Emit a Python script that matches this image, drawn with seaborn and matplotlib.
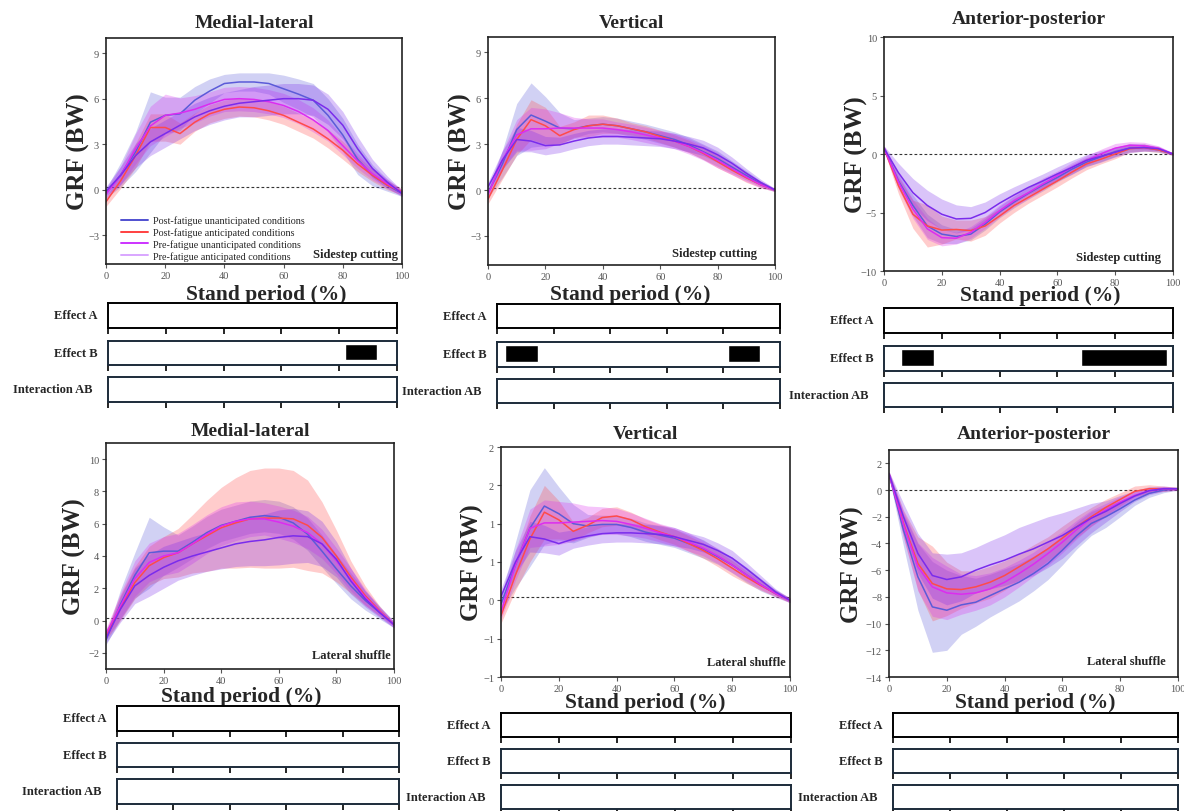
import matplotlib
matplotlib.use("Agg")
import matplotlib.pyplot as plt
from matplotlib.lines import Line2D
import pandas as pd
import seaborn as sns

# GRF (BW) over stance (%)
stance = [0, 5, 10, 15, 20, 25, 30, 35, 40, 45, 50, 55, 60, 65, 70, 75, 80, 85, 90, 95, 100]
conditions = ["Post-fatigue unanticipated conditions", "Post-fatigue anticipated conditions",
              "Pre-fatigue unanticipated conditions", "Pre-fatigue anticipated conditions"]

# sidestep cutting - medial-lateral
ml_cut_post_un = [-0.25, 1.0, 2.5, 4.45, 4.9, 5.0, 5.9, 6.5, 7.0, 7.1, 7.1, 7.0, 6.65, 6.3, 5.9, 4.9, 3.6, 2.0, 0.95, 0.3, -0.25]
ml_cut_post_an = [-0.8, 0.6, 2.25, 4.1, 4.1, 3.7, 4.45, 5.0, 5.3, 5.45, 5.4, 5.2, 4.9, 4.45, 4.0, 3.35, 2.6, 1.7, 0.95, 0.3, -0.15]
ml_cut_pre_un = [-0.3, 0.95, 2.7, 4.2, 4.9, 5.05, 5.3, 5.65, 5.95, 6.0, 5.95, 5.8, 5.55, 5.15, 4.6, 3.9, 2.9, 1.9, 1.05, 0.4, -0.2]
ml_cut_pre_an = [-0.1, 0.95, 2.25, 3.15, 3.7, 4.25, 4.8, 5.2, 5.5, 5.7, 5.8, 5.9, 6.0, 6.0, 5.9, 5.3, 4.25, 2.7, 1.4, 0.5, -0.25]
ml_cut_sd_post_un = [0.3, 0.8, 1.3, 2.0, 1.2, 1.1, 0.9, 0.8, 0.6, 0.6, 0.6, 0.7, 0.9, 1.0, 1.1, 1.1, 1.1, 1.0, 0.7, 0.4, 0.2]
ml_cut_sd_post_an = [0.3, 0.5, 0.8, 0.9, 0.9, 0.7, 0.6, 0.6, 0.6, 0.6, 0.6, 0.6, 0.6, 0.6, 0.6, 0.6, 0.6, 0.5, 0.4, 0.3, 0.2]
ml_cut_sd_pre_un = [0.3, 0.6, 1.0, 1.3, 1.4, 1.0, 0.9, 0.8, 0.8, 0.8, 0.8, 0.8, 0.8, 0.8, 0.8, 0.7, 0.6, 0.5, 0.4, 0.3, 0.2]
ml_cut_sd_pre_an = [0.3, 0.6, 0.8, 0.9, 0.9, 0.9, 0.9, 0.9, 0.9, 0.9, 1.0, 1.0, 1.0, 1.0, 1.0, 1.0, 0.9, 0.8, 0.6, 0.4, 0.2]

# sidestep cutting - vertical
vt_cut_post_un = [-0.2, 1.7, 3.95, 4.9, 4.5, 4.05, 4.0, 4.2, 4.3, 4.2, 4.0, 3.8, 3.55, 3.3, 2.95, 2.5, 2.05, 1.5, 0.95, 0.4, 0.0]
vt_cut_post_an = [-0.6, 1.3, 3.3, 4.6, 4.2, 3.55, 3.95, 4.2, 4.3, 4.2, 4.0, 3.8, 3.5, 3.2, 2.85, 2.4, 1.85, 1.3, 0.8, 0.35, 0.0]
vt_cut_pre_un = [-0.3, 1.95, 3.6, 4.0, 4.0, 4.05, 4.05, 4.05, 4.05, 3.95, 3.8, 3.6, 3.4, 3.2, 2.85, 2.45, 1.95, 1.4, 0.85, 0.35, 0.0]
vt_cut_pre_an = [0.2, 1.95, 3.3, 3.2, 2.9, 2.95, 3.2, 3.4, 3.5, 3.5, 3.45, 3.4, 3.35, 3.2, 3.0, 2.75, 2.3, 1.75, 1.1, 0.5, 0.0]
vt_cut_sd_post_un = [0.3, 0.9, 1.7, 2.1, 1.6, 1.0, 0.6, 0.5, 0.5, 0.5, 0.5, 0.5, 0.5, 0.5, 0.5, 0.5, 0.5, 0.4, 0.3, 0.2, 0.1]
vt_cut_sd_post_an = [0.3, 0.6, 1.0, 1.3, 1.2, 0.6, 0.5, 0.7, 0.6, 0.5, 0.4, 0.4, 0.4, 0.4, 0.4, 0.4, 0.4, 0.3, 0.3, 0.2, 0.1]
vt_cut_sd_pre_un = [0.3, 0.6, 1.0, 1.4, 1.3, 1.0, 0.7, 0.6, 0.6, 0.5, 0.5, 0.5, 0.5, 0.5, 0.5, 0.5, 0.5, 0.4, 0.3, 0.2, 0.1]
vt_cut_sd_pre_an = [0.3, 0.6, 0.8, 0.7, 0.6, 0.5, 0.5, 0.5, 0.5, 0.5, 0.5, 0.5, 0.5, 0.5, 0.5, 0.5, 0.5, 0.4, 0.3, 0.2, 0.1]

# sidestep cutting - anterior-posterior
ap_cut_post_un = [0.5, -2.3, -4.4, -6.15, -6.85, -7.05, -6.85, -6.0, -4.95, -4.1, -3.35, -2.65, -2.0, -1.3, -0.7, -0.25, 0.2, 0.5, 0.55, 0.35, 0.0]
ap_cut_post_an = [0.5, -2.7, -5.15, -6.15, -6.5, -6.45, -6.55, -6.15, -5.3, -4.4, -3.7, -3.0, -2.3, -1.55, -0.85, -0.45, 0.0, 0.45, 0.55, 0.35, 0.0]
ap_cut_pre_un = [0.5, -2.4, -4.7, -6.4, -7.15, -7.2, -6.7, -5.85, -4.85, -4.0, -3.3, -2.55, -1.85, -1.15, -0.55, 0.0, 0.5, 0.75, 0.7, 0.5, 0.0]
ap_cut_pre_an = [0.5, -1.6, -3.3, -4.4, -5.15, -5.55, -5.5, -5.0, -4.2, -3.5, -2.85, -2.3, -1.7, -1.15, -0.55, -0.2, 0.15, 0.5, 0.55, 0.45, 0.0]
ap_cut_sd_post_un = [0.2, 0.6, 0.9, 1.0, 0.8, 0.6, 0.5, 0.5, 0.5, 0.5, 0.5, 0.5, 0.4, 0.4, 0.4, 0.4, 0.4, 0.3, 0.3, 0.2, 0.1]
ap_cut_sd_post_an = [0.2, 0.7, 1.2, 1.8, 1.2, 0.8, 0.9, 0.8, 0.6, 0.6, 0.5, 0.5, 0.5, 0.5, 0.5, 0.4, 0.4, 0.3, 0.3, 0.2, 0.1]
ap_cut_sd_pre_un = [0.2, 0.6, 0.8, 0.9, 0.7, 0.5, 0.5, 0.5, 0.5, 0.5, 0.5, 0.5, 0.4, 0.4, 0.4, 0.4, 0.4, 0.3, 0.3, 0.2, 0.1]
ap_cut_sd_pre_an = [0.2, 0.8, 1.2, 1.3, 1.3, 1.2, 1.0, 0.9, 0.8, 0.7, 0.6, 0.6, 0.6, 0.6, 0.5, 0.5, 0.4, 0.4, 0.3, 0.2, 0.1]

# lateral shuffle - medial-lateral
ml_shuf_post_un = [-1.2, 1.0, 2.8, 4.2, 4.3, 4.3, 4.85, 5.45, 5.9, 6.15, 6.4, 6.5, 6.4, 6.05, 5.35, 4.3, 3.2, 2.15, 1.25, 0.5, -0.25]
ml_shuf_post_an = [-0.9, 0.8, 2.35, 3.4, 3.9, 4.2, 4.75, 5.25, 5.75, 6.05, 6.3, 6.35, 6.35, 6.3, 5.9, 5.15, 4.0, 2.7, 1.55, 0.6, -0.25]
ml_shuf_pre_un = [-0.8, 0.9, 2.6, 3.6, 4.0, 4.2, 4.75, 5.35, 5.85, 6.15, 6.3, 6.3, 6.1, 5.85, 5.45, 4.75, 3.7, 2.55, 1.45, 0.55, -0.25]
ml_shuf_pre_an = [-1.1, 0.7, 2.15, 2.8, 3.3, 3.7, 4.0, 4.25, 4.5, 4.75, 4.9, 5.0, 5.15, 5.25, 5.2, 4.75, 3.8, 2.45, 1.35, 0.5, -0.25]
ml_shuf_sd_post_un = [0.3, 0.9, 1.4, 2.2, 1.5, 1.0, 1.0, 1.0, 1.0, 1.0, 1.0, 1.0, 1.0, 1.0, 1.0, 1.0, 0.9, 0.8, 0.6, 0.4, 0.2]
ml_shuf_sd_post_an = [0.3, 0.8, 1.0, 1.2, 1.3, 1.5, 1.8, 2.2, 2.5, 2.8, 3.0, 3.1, 3.1, 3.0, 2.8, 2.2, 1.6, 1.0, 0.6, 0.3, 0.1]
ml_shuf_sd_pre_un = [0.3, 0.8, 1.1, 1.2, 1.2, 1.2, 1.2, 1.2, 1.2, 1.2, 1.1, 1.0, 1.0, 1.0, 1.0, 0.9, 0.8, 0.7, 0.5, 0.3, 0.2]
ml_shuf_sd_pre_an = [0.3, 0.8, 1.1, 1.3, 1.3, 1.2, 1.2, 1.2, 1.3, 1.4, 1.5, 1.6, 1.7, 1.7, 1.6, 1.4, 1.1, 0.8, 0.5, 0.3, 0.2]

# lateral shuffle - vertical
vt_shuf_post_un = [-0.05, 0.46, 0.94, 1.23, 1.13, 1.0, 0.97, 0.99, 0.99, 0.95, 0.89, 0.85, 0.81, 0.74, 0.67, 0.57, 0.46, 0.33, 0.2, 0.09, 0.0]
vt_shuf_post_an = [-0.2, 0.33, 0.8, 1.15, 1.05, 0.9, 0.98, 1.08, 1.1, 1.05, 0.96, 0.89, 0.83, 0.74, 0.65, 0.54, 0.42, 0.3, 0.19, 0.09, 0.0]
vt_shuf_pre_un = [-0.15, 0.46, 0.94, 1.01, 1.01, 1.02, 1.03, 1.04, 1.03, 0.99, 0.94, 0.88, 0.83, 0.76, 0.68, 0.58, 0.46, 0.33, 0.2, 0.09, 0.0]
vt_shuf_pre_an = [0.05, 0.5, 0.83, 0.8, 0.74, 0.8, 0.84, 0.87, 0.88, 0.88, 0.87, 0.86, 0.83, 0.78, 0.73, 0.65, 0.55, 0.41, 0.26, 0.11, 0.0]
vt_shuf_sd_post_un = [0.1, 0.3, 0.5, 0.5, 0.35, 0.25, 0.15, 0.12, 0.12, 0.12, 0.12, 0.12, 0.12, 0.12, 0.12, 0.1, 0.1, 0.1, 0.08, 0.05, 0.03]
vt_shuf_sd_post_an = [0.1, 0.2, 0.3, 0.35, 0.25, 0.12, 0.1, 0.12, 0.12, 0.1, 0.1, 0.1, 0.1, 0.1, 0.1, 0.1, 0.1, 0.08, 0.06, 0.04, 0.03]
vt_shuf_sd_pre_un = [0.1, 0.2, 0.25, 0.3, 0.28, 0.25, 0.2, 0.18, 0.17, 0.15, 0.13, 0.12, 0.12, 0.12, 0.1, 0.1, 0.1, 0.08, 0.06, 0.04, 0.03]
vt_shuf_sd_pre_an = [0.1, 0.15, 0.2, 0.18, 0.15, 0.12, 0.12, 0.12, 0.12, 0.12, 0.12, 0.12, 0.12, 0.1, 0.1, 0.1, 0.1, 0.08, 0.06, 0.04, 0.03]
vt_shuf_yticks = [-1, -0.5, 0, 0.5, 1, 1.5, 2]
vt_shuf_yticklabels = ["\u22121", "\u22121", "0", "1", "1", "2", "2"]

# lateral shuffle - anterior-posterior
ap_shuf_post_un = [1.2, -3.0, -6.5, -8.75, -9.0, -8.6, -8.4, -7.9, -7.4, -6.9, -6.25, -5.5, -4.5, -3.4, -2.5, -2.0, -1.4, -0.75, -0.25, 0.0, 0.1]
ap_shuf_post_an = [1.2, -2.5, -5.5, -7.0, -7.4, -7.45, -7.25, -6.9, -6.4, -5.75, -5.1, -4.4, -3.6, -2.75, -2.0, -1.3, -0.7, -0.1, 0.1, 0.1, 0.1]
ap_shuf_pre_un = [1.2, -2.6, -5.75, -7.25, -7.7, -7.8, -7.7, -7.4, -6.9, -6.25, -5.55, -4.75, -3.9, -2.95, -2.1, -1.5, -0.9, -0.4, -0.05, 0.1, 0.1]
ap_shuf_pre_an = [1.2, -2.0, -4.75, -6.4, -6.7, -6.5, -6.0, -5.6, -5.25, -4.8, -4.4, -3.9, -3.4, -2.75, -2.1, -1.6, -1.0, -0.45, -0.05, 0.1, 0.1]
ap_shuf_sd_post_un = [0.2, 1.2, 2.5, 3.4, 3.0, 2.2, 1.8, 1.6, 1.5, 1.4, 1.3, 1.2, 1.1, 1.0, 0.9, 0.8, 0.6, 0.4, 0.3, 0.2, 0.1]
ap_shuf_sd_post_an = [0.2, 1.0, 2.0, 2.8, 2.0, 1.4, 1.2, 1.2, 1.1, 1.0, 1.0, 0.9, 0.9, 0.8, 0.7, 0.6, 0.5, 0.4, 0.3, 0.2, 0.1]
ap_shuf_sd_pre_un = [0.2, 1.0, 1.8, 2.2, 2.0, 1.5, 1.3, 1.2, 1.1, 1.0, 0.9, 0.9, 0.8, 0.7, 0.6, 0.5, 0.4, 0.3, 0.2, 0.15, 0.1]
ap_shuf_sd_pre_an = [0.2, 1.0, 1.5, 1.7, 1.9, 1.8, 1.7, 1.8, 1.9, 2.0, 2.0, 1.9, 1.7, 1.4, 1.1, 0.8, 0.6, 0.4, 0.3, 0.2, 0.1]

# significant stretches (SPM) in the effect strips, % stance
effect_rows = ["Effect A", "Effect B", "Interaction AB"]
cut_ml_effects = [[], [(82, 93)], []]
cut_vt_effects = [[], [(3, 14.5), (81.5, 93)], []]
cut_ap_effects = [[], [(6, 17.3), (68, 98)], []]
shuf_ml_effects = [[], [], []]
shuf_vt_effects = [[], [], []]
shuf_ap_effects = [[], [], []]

line_colors = ["#5b5bd8", "#ff4a4a", "#dc2cf0", "#7a2cec"]
legend_colors = ["#5050d0", "#ff4040", "#cc33ff", "#d9a6ff"]

sns.set_theme(style="white")
plt.rcParams["font.family"] = ["Liberation Serif", "DejaVu Serif"]

W, H = 1184, 812
fig = plt.figure(figsize=(W / 100, H / 100), dpi=100)


def px_rect(x0, y0, x1, y1):
    return [x0 / W, 1 - y1 / H, (x1 - x0) / W, (y1 - y0) / H]


def long_frame(means, sds):
    # mean-sd, mean, mean+sd per point -> seaborn mean line + min/max band
    rows = []
    for cond, m, s in zip(conditions, means, sds):
        for x, mv, sv in zip(stance, m, s):
            for v in (mv - sv, mv, mv + sv):
                rows.append({"stance": x, "grf": v, "condition": cond})
    return pd.DataFrame(rows)


panels = [
    dict(means=[ml_cut_post_un, ml_cut_post_an, ml_cut_pre_un, ml_cut_pre_an],
         sds=[ml_cut_sd_post_un, ml_cut_sd_post_an, ml_cut_sd_pre_un, ml_cut_sd_pre_an],
         title="Medial-lateral", task="Sidestep cutting", box=(106, 39, 402, 265),
         ylim=(-4.9, 10), yticks=[-3, 0, 3, 6, 9], zero=0.2, pad=8,
         xlab=(0.54, -0.133), ylab=-0.092, task_px=(4, 10)),
    dict(means=[vt_cut_post_un, vt_cut_post_an, vt_cut_pre_un, vt_cut_pre_an],
         sds=[vt_cut_sd_post_un, vt_cut_sd_post_an, vt_cut_sd_pre_un, vt_cut_sd_pre_an],
         title="Vertical", task="Sidestep cutting", box=(488, 38, 775, 266),
         ylim=(-4.9, 10), yticks=[-3, 0, 3, 6, 9], zero=0.15, pad=7,
         xlab=(0.495, -0.127), ylab=-0.095, task_px=(18, 12)),
    dict(means=[ap_cut_post_un, ap_cut_post_an, ap_cut_pre_un, ap_cut_pre_an],
         sds=[ap_cut_sd_post_un, ap_cut_sd_post_an, ap_cut_sd_pre_un, ap_cut_sd_pre_an],
         title="Anterior-posterior", task="Sidestep cutting", box=(884, 38, 1173, 272),
         ylim=(-10, 10), yticks=[-10, -5, 0, 5, 10], zero=0.0, pad=10,
         xlab=(0.54, -0.103), ylab=-0.095, task_px=(12, 14)),
    dict(means=[ml_shuf_post_un, ml_shuf_post_an, ml_shuf_pre_un, ml_shuf_pre_an],
         sds=[ml_shuf_sd_post_un, ml_shuf_sd_post_an, ml_shuf_sd_pre_un, ml_shuf_sd_pre_an],
         title="Medial-lateral", task="Lateral shuffle", box=(106, 444, 394, 670),
         ylim=(-3, 11), yticks=[-2, 0, 2, 4, 6, 8, 10], zero=0.16, pad=5.5,
         xlab=(0.47, -0.119), ylab=-0.11, task_px=(3, 14)),
    dict(means=[vt_shuf_post_un, vt_shuf_post_an, vt_shuf_pre_un, vt_shuf_pre_an],
         sds=[vt_shuf_sd_post_un, vt_shuf_sd_post_an, vt_shuf_sd_pre_un, vt_shuf_sd_pre_an],
         title="Vertical", task="Lateral shuffle", box=(501, 448, 790, 678),
         ylim=(-1, 2), yticks=vt_shuf_yticks, yticklabels=vt_shuf_yticklabels, zero=0.04, pad=6.5,
         xlab=(0.50, -0.109), ylab=-0.10, task_px=(4, 15)),
    dict(means=[ap_shuf_post_un, ap_shuf_post_an, ap_shuf_pre_un, ap_shuf_pre_an],
         sds=[ap_shuf_sd_post_un, ap_shuf_sd_post_an, ap_shuf_sd_pre_un, ap_shuf_sd_pre_an],
         title="Anterior-posterior", task="Lateral shuffle", box=(889, 451, 1178, 678),
         ylim=(-14, 3), yticks=[-14, -12, -10, -8, -6, -4, -2, 0, 2], zero=0.0, pad=8.5,
         xlab=(0.505, -0.110), ylab=-0.125, task_px=(12, 16)),
]

for i, p in enumerate(panels):
    ax = fig.add_axes(px_rect(*p["box"]))
    df = long_frame(p["means"], p["sds"])
    sns.lineplot(data=df, x="stance", y="grf", hue="condition", hue_order=conditions,
                 palette=line_colors, estimator="mean", errorbar=("pi", 100),
                 err_kws={"alpha": 0.28, "linewidth": 0}, linewidth=1.1,
                 legend=False, ax=ax)
    ax.axhline(p["zero"], color="#333333", lw=0.8, ls=(0, (2.5, 2)), zorder=0.5)
    ax.set_xlim(0, 100)
    ax.set_ylim(*p["ylim"])
    ax.set_xticks([0, 20, 40, 60, 80, 100])
    ax.set_yticks(p["yticks"])
    if "yticklabels" in p:
        ax.set_yticklabels(p["yticklabels"])
    ax.tick_params(axis="both", direction="out", length=3, width=0.8, color="#555555",
                   labelsize=7.5, labelcolor="#555555", pad=2, left=True, bottom=True)
    for sp in ax.spines.values():
        sp.set_linewidth(1.2)
        sp.set_color("#222222")
    ax.set_title(p["title"], fontsize=14, fontweight="bold", pad=p["pad"])
    ax.set_xlabel("Stand period (%)", fontsize=15.5, fontweight="bold", va="center")
    ax.xaxis.set_label_coords(*p["xlab"])
    ax.set_ylabel("GRF (BW)", fontsize=18, fontweight="bold", va="center")
    ax.yaxis.set_label_coords(p["ylab"], 0.5)
    bw = p["box"][2] - p["box"][0]
    bh = p["box"][3] - p["box"][1]
    ax.text(1 - p["task_px"][0] / bw, p["task_px"][1] / bh, p["task"], transform=ax.transAxes,
            ha="right", va="center", fontsize=9, fontweight="bold")
    if i == 0:
        handles = [Line2D([0], [0], color=c, lw=1.4) for c in legend_colors]
        ax.legend(handles, conditions, loc="lower left", bbox_to_anchor=(0.05, 0.015),
                  frameon=False, fontsize=7.3, handlelength=2.7, handletextpad=0.5,
                  labelspacing=0.2, borderaxespad=0, borderpad=0)

# effect strips under each panel
strips = [
    ((108, 397), [(304, 329), (342, 366), (378, 403)], cut_ml_effects),
    ((497, 780), [(305, 329), (343, 368), (380, 404)], cut_vt_effects),
    ((884, 1173), [(309, 334), (347, 372), (384, 408)], cut_ap_effects),
    ((117, 399), [(707, 732), (744, 768), (780, 805)], shuf_ml_effects),
    ((501, 791), [(714, 738), (750, 774), (786, 810)], shuf_vt_effects),
    ((893, 1178), [(714, 738), (750, 774), (786, 810)], shuf_ap_effects),
]

for (x0, x1), rows, effects in strips:
    for j, ((y0, y1), label, segs) in enumerate(zip(rows, effect_rows, effects)):
        sax = fig.add_axes(px_rect(x0, y0, x1, y1))
        for a, b in segs:
            sax.barh(0.54, b - a, left=a, height=0.66, color="black")
        sax.set_xlim(0, 100)
        sax.set_ylim(0, 1)
        sax.set_xticks([0, 20, 40, 60, 80, 100])
        sax.set_yticks([])
        sax.tick_params(axis="x", direction="out", length=4, width=1.2, color="black",
                        labelbottom=False, bottom=True)
        edge = "black" if j == 0 else "#1c2b3a"
        for sp in sax.spines.values():
            sp.set_linewidth(1.4)
            sp.set_color(edge)
        off = 11.5 if label == "Interaction AB" else 7.5
        sax.annotate(label, xy=(0, 0.5), xycoords="axes fraction", xytext=(-off, 0),
                     textcoords="offset points", ha="right", va="center",
                     fontsize=9, fontweight="bold")

fig.savefig("out.png", dpi=100, facecolor="white")
